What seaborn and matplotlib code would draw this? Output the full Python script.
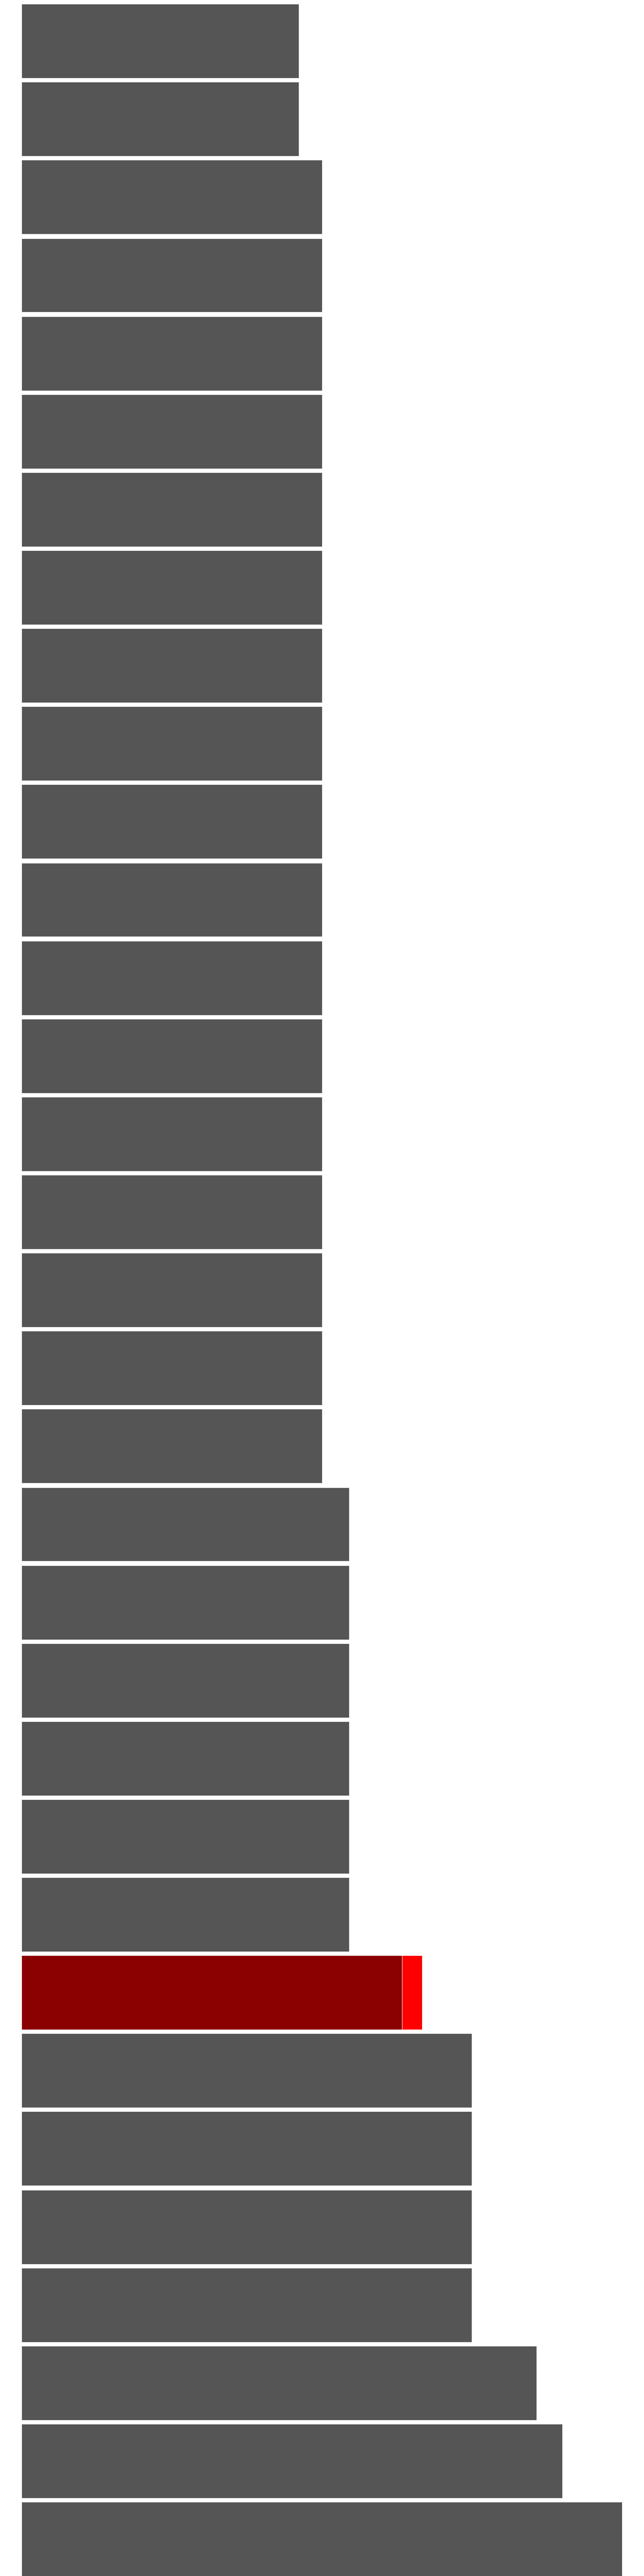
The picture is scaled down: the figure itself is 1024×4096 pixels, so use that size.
import pandas as pd
import seaborn as sns
import matplotlib.pyplot as plt

# --- DONNÉES ---
categories = [f"c{i:02d}" for i in range(33)]
values = [
    0.4615, 0.4615,
    0.5, 0.5, 0.5, 0.5, 0.5, 0.5, 0.5, 0.5, 0.5, 0.5,
    0.5, 0.5, 0.5, 0.5, 0.5, 0.5, 0.5,
    0.5455, 0.5455, 0.5455, 0.5455, 0.5455, 0.5455,
    0.6667,
    0.75, 0.75, 0.75, 0.75,
    0.8571, 0.9, 1.0,
]
highlight = "c25"
highlight_inner = 0.6335

sns.set_theme(style="white")

df = pd.DataFrame({"cat": categories, "value": values})
palette = {c: ("#ff0000" if c == highlight else "#555555") for c in categories}
df_inner = pd.DataFrame({"cat": [highlight], "value": [highlight_inner]})

fig = plt.figure(figsize=(10.24, 40.96), dpi=100)
ax = fig.add_axes([34 / 1024, 0, 990 / 1024, 1])

# barres complètes (la barre mise en évidence est rouge vif)
sns.barplot(data=df, y="cat", x="value", hue="cat", palette=palette, order=categories,
            legend=False, saturation=1, width=0.95, edgecolor="white", linewidth=0.5, ax=ax)
# partie intérieure rouge foncé de la barre mise en évidence
sns.barplot(data=df_inner, y="cat", x="value", order=categories, color="#8b0000",
            saturation=1, width=0.95, edgecolor="white", linewidth=0.5, ax=ax)

ax.set_xlim(0, 1.0366)
ax.set_ylim(32.475, -0.525)
ax.axis("off")

fig.savefig("out.png", dpi=100, facecolor="white")
